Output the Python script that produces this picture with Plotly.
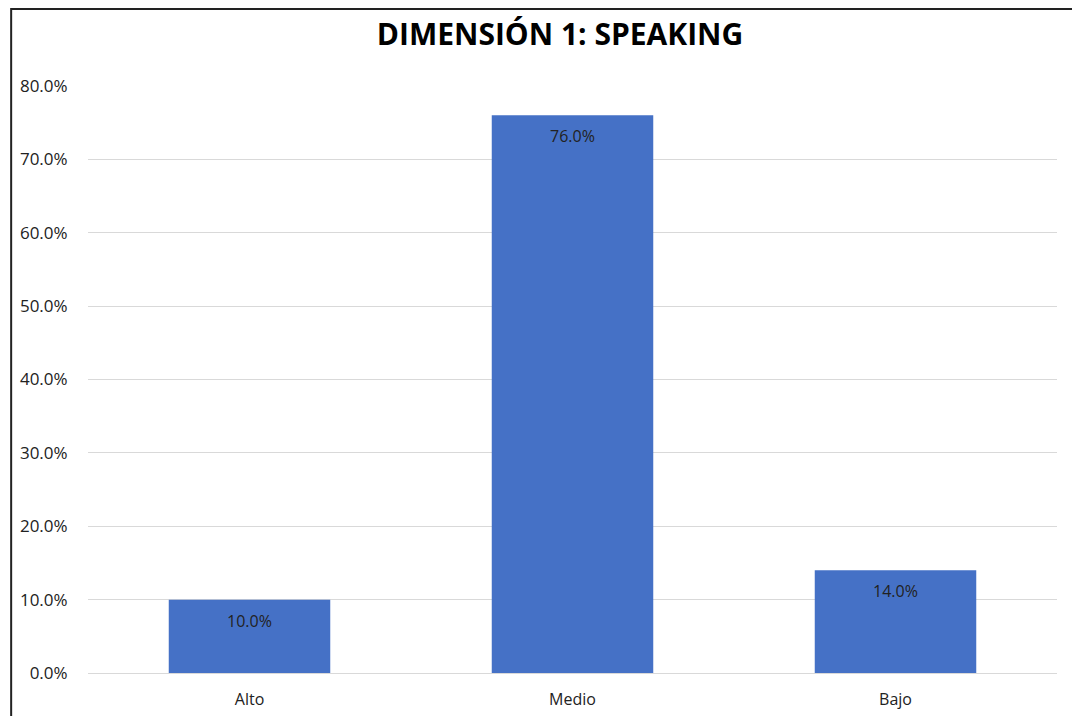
import plotly.graph_objects as go

categories = ["Alto", "Medio", "Bajo"]
values = [0.10, 0.76, 0.14]
labels = ["10.0%", "76.0%", "14.0%"]
tick_vals = [0, 0.1, 0.2, 0.3, 0.4, 0.5, 0.6, 0.7, 0.8]
tick_text = ["0.0%", "10.0%", "20.0%", "30.0%", "40.0%", "50.0%", "60.0%", "70.0%", "80.0%"]

# page body adds an 8px offset; coordinates below are in figure space
W, H = 1080, 716
L, R, T, B = 78, 31, 78, 51
pw, ph = W - L - R, H - T - B
FONT = "Open Sans, sans-serif"

fig = go.Figure(go.Bar(
    x=categories, y=values,
    marker=dict(color="#4571c6", line=dict(width=0)),
    width=0.5, hoverinfo="x+y",
))

for c, v, t in zip(categories, values, labels):
    fig.add_annotation(x=c, y=v, text=t, showarrow=False, yanchor="middle",
                       yshift=-21, font=dict(family=FONT, size=16, color="#222222"))

def px_x(p):
    return (p - L) / pw

def px_y(p):
    return (H - B - p) / ph

fig.add_shape(type="path", xref="paper", yref="paper",
              path=f"M {px_x(1)},{px_y(740)} L {px_x(1)},{px_y(1)} L {px_x(1069)},{px_y(1)} L {px_x(1069)},{px_y(740)}",
              line=dict(color="#222222", width=2), layer="above")

fig.update_layout(
    width=W, height=H,
    margin=dict(l=L, r=R, t=T, b=B),
    paper_bgcolor="white", plot_bgcolor="white",
    title=dict(text="<b>DIMENSIÓN 1: SPEAKING</b>", x=552 / W, xanchor="center",
               y=1 - 26 / H, yanchor="middle",
               font=dict(family=FONT, size=30, color="#000000")),
    showlegend=False,
    xaxis=dict(showgrid=False, showline=False, ticks="outside", ticklen=12, tickcolor="white",
               tickfont=dict(family=FONT, size=16, color="#222222")),
    yaxis=dict(range=[0, 0.8], tickvals=tick_vals, ticktext=tick_text,
               showgrid=True, gridcolor="#d9d9d9", gridwidth=1,
               zeroline=True, zerolinecolor="#d9d9d9", zerolinewidth=1,
               showline=False, ticks="outside", ticklen=16, tickcolor="white",
               tickfont=dict(family=FONT, size=17, color="#222222")),
    bargap=0.5,
)

fig.write_html("out.html")
